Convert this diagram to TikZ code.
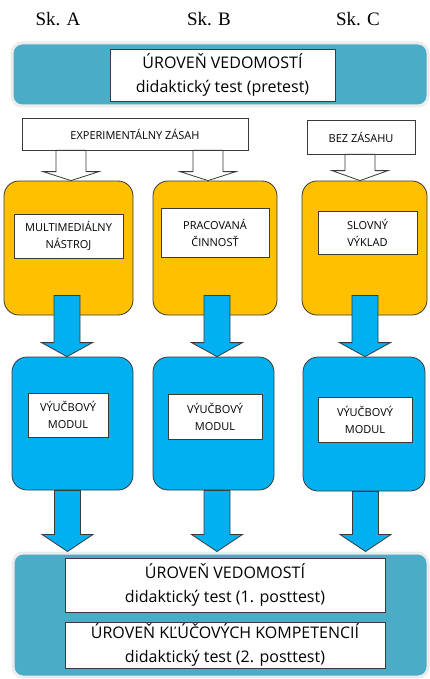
\documentclass[tikz,border=0pt]{standalone}
\usepackage{fontspec}
\setmainfont{Open Sans}
\newfontfamily\skfont{Liberation Serif}
\usetikzlibrary{calc}
\definecolor{teal}{HTML}{4AACC6}
\definecolor{orng}{HTML}{FFC000}
\definecolor{sky}{HTML}{00B0F0}
\definecolor{edge}{HTML}{3A3A3A}
\tikzset{
  band/.style={fill=teal, draw=gray!15, line width=3pt, rounded corners=10pt, inner sep=0pt},
  wbox/.style={fill=white, draw=edge, line width=0.8pt, inner sep=0pt, align=center},
  bigtxt/.style={font=\fontsize{16}{24}\selectfont},
  smalltxt/.style={font=\fontsize{11}{17}\selectfont},
  obox/.style={fill=orng, draw=edge, line width=0.8pt, rounded corners=15pt, inner sep=0pt},
  bbox/.style={fill=sky, draw=edge, line width=0.8pt, rounded corners=15pt, inner sep=0pt},
  hollow/.style={fill=white, draw=edge, line width=0.8pt},
  barrow/.style={fill=sky, draw=edge, line width=0.8pt},
  sk/.style={font=\skfont\fontsize{19}{21}\selectfont}
}
% style, from, to, x, start offset, shaft half width, head half width, head length
\newcommand\blockarr[8]{%
  \path[#1] let \p1=(#2), \p2=(#3) in
    ({(#4-#6)*1pt},{\y1+#5pt}) -- ({(#4-#6)*1pt},{\y2+#8pt}) -- ({(#4-#7)*1pt},{\y2+#8pt})
    -- ({#4*1pt},\y2) -- ({(#4+#7)*1pt},{\y2+#8pt}) -- ({(#4+#6)*1pt},{\y2+#8pt})
    -- ({(#4+#6)*1pt},{\y1+#5pt}) -- cycle;}
\begin{document}
\begin{tikzpicture}[x=1pt,y=-1pt]
\useasboundingbox[fill=white] (0,0) rectangle (430,679);
% headers
\node[sk] (ska) at (58,19) {Sk. A};
\node[sk] (skb) at (209,19) {Sk. B};
\node[sk] (skc) at (358,19) {Sk. C};
% top band
\node[band, minimum width=416pt, minimum height=63pt] (topband) at (220,74.5) {};
\node[wbox, bigtxt, minimum width=225pt, minimum height=52pt] (pretest) at (222.5,75) {ÚROVEŇ VEDOMOSTÍ\\didaktický test (pretest)};
% intervention boxes
\node[wbox, smalltxt, minimum width=226pt, minimum height=32pt] (exp) at (135,134) {EXPERIMENTÁLNY ZÁSAH};
\node[wbox, smalltxt, minimum width=108pt, minimum height=34pt] (bez) at (361,137) {BEZ ZÁSAHU};
% orange boxes
\node[obox, minimum width=129pt, minimum height=134pt] (oA) at (68.5,248) {};
\node[obox, minimum width=124pt, minimum height=134pt] (oB) at (215,248) {};
\node[obox, minimum width=125pt, minimum height=134pt] (oC) at (364.5,248) {};
\node[wbox, smalltxt, minimum width=109pt, minimum height=44pt] (mm) at (68.5,236) {MULTIMEDIÁLNY\\NÁSTROJ};
\node[wbox, smalltxt, minimum width=108pt, minimum height=49pt] (pc) at (215,232.5) {PRACOVANÁ\\ČINNOSŤ};
\node[wbox, smalltxt, minimum width=99pt, minimum height=43pt] (sv) at (367.5,232.5) {SLOVNÝ\\VÝKLAD};
% blue boxes
\node[bbox, minimum width=121pt, minimum height=133pt] (bA) at (72.5,423.5) {};
\node[bbox, minimum width=121pt, minimum height=133pt] (bB) at (213.5,423.5) {};
\node[bbox, minimum width=122pt, minimum height=134pt] (bC) at (364,424) {};
\node[wbox, smalltxt, minimum width=80pt, minimum height=44pt] (vmA) at (68,415) {VÝUČBOVÝ\\MODUL};
\node[wbox, smalltxt, minimum width=94pt, minimum height=45pt] (vmB) at (215,416.5) {VÝUČBOVÝ\\MODUL};
\node[wbox, smalltxt, minimum width=94pt, minimum height=45pt] (vmC) at (365,419.5) {VÝUČBOVÝ\\MODUL};
% bottom band
\node[band, minimum width=415pt, minimum height=124pt] (botband) at (220.5,615) {};
\node[wbox, bigtxt, minimum width=320pt, minimum height=54pt] (post1) at (225,585) {ÚROVEŇ VEDOMOSTÍ\\didaktický test (1. posttest)};
\node[wbox, bigtxt, minimum width=320pt, minimum height=46pt] (post2) at (225,645) {ÚROVEŇ KĽÚČOVÝCH KOMPETENCIÍ\\didaktický test (2. posttest)};
% hollow arrows
\blockarr{hollow}{exp.south}{oA.north}{71}{0}{15}{28}{9}
\blockarr{hollow}{exp.south}{oB.north}{208}{0}{15}{28}{9}
\blockarr{hollow}{bez.south}{oC.north}{360}{0}{15}{28}{10}
% blue arrows orange -> blue
\blockarr{barrow}{oA.south}{bA.north}{67}{20}{13}{25.5}{14}
\blockarr{barrow}{oB.south}{bB.north}{217}{20}{13}{25.5}{14}
\blockarr{barrow}{oC.south}{bC.north}{365}{20}{13}{25.5}{14}
% blue arrows blue -> bottom band
\blockarr{barrow}{bA.south}{botband.north}{67.5}{0}{13}{25.5}{17}
\blockarr{barrow}{bB.south}{botband.north}{217}{0}{13}{25.5}{17}
\blockarr{barrow}{bC.south}{botband.north}{365.5}{0}{13}{25.5}{17}
\end{tikzpicture}
\end{document}
